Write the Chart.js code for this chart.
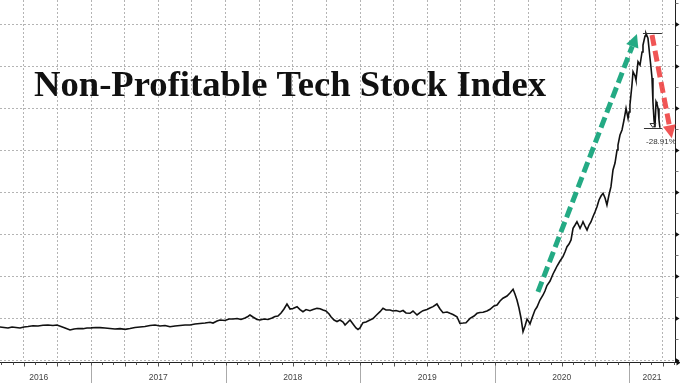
<!DOCTYPE html>
<html>
<head>
<meta charset="utf-8">
<script src="https://cdn.jsdelivr.net/npm/chart.js@4.4.1/dist/chart.umd.min.js"></script>
<style>
html,body{margin:0;padding:0;background:#fff;}
#wrap{width:680px;height:383px;position:relative;}
</style>
</head>
<body>
<div id="wrap"><canvas id="c" width="680" height="383"></canvas></div>
<script>
// ---- data (dates as fractional years, index values) ----
const dates2016 = [2016.323,2016.353,2016.383,2016.413,2016.442,2016.472,2016.502,2016.532,2016.569,2016.606,2016.643,2016.680,2016.717,2016.747,2016.777,2016.807,2016.844,2016.874,2016.903,2016.941,2016.970,2017.000];
const values2016 = [39.3,38.7,38.1,39.3,38.7,38.1,39.3,39.9,40.8,40.5,41.3,41.7,41.1,41.7,39.9,38.1,35.7,36.9,37.5,37.3,38.1,38.3];
const dates2017 = [2017.037,2017.067,2017.104,2017.141,2017.178,2017.216,2017.253,2017.290,2017.327,2017.364,2017.401,2017.439,2017.476,2017.513,2017.550,2017.587,2017.625,2017.662,2017.699,2017.736,2017.773,2017.810,2017.848,2017.885,2017.907,2017.937,2017.959,2017.996];
const values2017 = [38.7,38.5,38.1,37.5,36.9,37.3,36.5,37.5,38.7,39.3,39.9,41.1,41.7,40.5,41.1,39.6,40.5,41.1,41.7,41.7,42.9,43.5,44.0,44.9,44.0,46.4,47.6,47.0];
const dates2018 = [2018.026,2018.056,2018.086,2018.115,2018.145,2018.167,2018.182,2018.204,2018.234,2018.257,2018.286,2018.316,2018.346,2018.368,2018.390,2018.413,2018.435,2018.457,2018.480,2018.502,2018.532,2018.554,2018.576,2018.599,2018.628,2018.651,2018.680,2018.703,2018.725,2018.747,2018.770,2018.784,2018.807,2018.829,2018.851,2018.874,2018.889,2018.911,2018.926,2018.948,2018.970,2018.985,2019.000];
const values2018 = [48.8,48.8,49.4,48.2,50.0,51.8,53.6,51.2,48.2,47.6,48.8,48.2,50.0,51.8,52.4,56.0,60.7,66.7,60.7,61.3,63.5,60.1,57.5,60.1,58.7,60.1,61.5,61.1,59.5,58.3,54.8,51.5,47.6,45.8,47.6,45.2,41.7,45.2,47.6,42.9,38.1,36.3,38.1];
const dates2019 = [2019.022,2019.045,2019.074,2019.097,2019.119,2019.149,2019.171,2019.193,2019.223,2019.245,2019.268,2019.297,2019.320,2019.342,2019.372,2019.394,2019.424,2019.446,2019.468,2019.498,2019.520,2019.543,2019.572,2019.595,2019.617,2019.647,2019.669,2019.691,2019.721,2019.743,2019.766,2019.788,2019.818,2019.848,2019.870,2019.892,2019.915,2019.944,2019.967,2019.996];
const values2019 = [44.4,45.2,47.6,49.4,53.0,57.5,61.5,59.5,59.5,58.3,58.9,57.5,58.9,56.0,55.6,58.3,53.6,56.5,58.7,60.1,61.9,63.5,66.7,60.7,56.3,57.1,55.6,54.2,51.5,43.7,44.0,44.4,49.6,52.4,55.6,56.5,56.8,58.3,60.4,64.3];
const dates2020 = [2020.019,2020.041,2020.063,2020.093,2020.115,2020.138,2020.152,2020.167,2020.182,2020.197,2020.212,2020.227,2020.242,2020.257,2020.264,2020.279,2020.301,2020.316,2020.338,2020.361,2020.375,2020.390,2020.413,2020.435,2020.450,2020.465,2020.487,2020.509,2020.524,2020.539,2020.554,2020.569,2020.584,2020.599,2020.613,2020.628,2020.636,2020.651,2020.658,2020.673,2020.688,2020.703,2020.717,2020.732,2020.747,2020.762,2020.777,2020.792,2020.807,2020.822,2020.836,2020.851,2020.866,2020.881,2020.896,2020.911,2020.918,2020.933,2020.948,2020.963,2020.978,2020.993];
const values2020 = [65.5,70.2,73.5,76.2,79.8,84.2,78.6,71.4,61.9,50.0,33.7,40.5,48.8,45.2,42.9,50.0,59.5,63.1,71.4,77.4,82.1,88.7,94.0,102.4,107.1,111.9,117.9,123.0,128.6,134.9,138.1,142.9,156.8,160.7,164.6,159.5,156.8,161.9,164.6,159.5,154.8,160.7,164.3,170.6,176.2,182.5,190.5,195.2,198.5,192.9,184.5,196.4,206.3,226.2,234.5,250.0,256.0,267.9,273.8,285.7,299.6,287.7];
const dates2021 = [2021.000,2021.007,2021.022,2021.030,2021.045,2021.052,2021.067,2021.082,2021.097,2021.104,2021.119,2021.126,2021.141,2021.156,2021.164,2021.171,2021.178,2021.186,2021.193,2021.201,2021.208,2021.216,2021.223,2021.230];
const values2021 = [295.2,303.6,327.4,343.2,338.1,333.3,355.1,351.2,366.7,375.0,385.7,388.9,383.0,359.5,347.6,335.7,307.5,285.7,277.0,307.5,304.8,299.6,285.7,276.5];

const yearLabels = ['2016','2017','2018','2019','2020','2021'];
const titleText = 'Non-Profitable Tech Stock Index';
const dropLabel = '-28.91%';
// annotation arrows in data coordinates [year, value]
const greenArrow = {from:[2020.323, 81], to:[2021.059, 388]};
const redArrow   = {from:[2021.171, 387], to:[2021.318, 264]};

const dates = [].concat(dates2016,dates2017,dates2018,dates2019,dates2020,dates2021);
const values = [].concat(values2016,values2017,values2018,values2019,values2020,values2021);

const X_MIN = 2016.3234, X_MAX = 2021.342;
const Y_MIN = 0, Y_MAX = 428.6, Y_STEP = 50;

function drawArrow(ctx, x0, y0, x1, y1, color, lw, head, headW){
  const dx = x1-x0, dy = y1-y0, L = Math.hypot(dx,dy);
  const ux = dx/L, uy = dy/L;
  const bx = x1-ux*head, by = y1-uy*head;
  ctx.save();
  ctx.strokeStyle = color; ctx.fillStyle = color; ctx.lineWidth = lw;
  ctx.setLineDash([11,5]);
  ctx.beginPath(); ctx.moveTo(x0,y0); ctx.lineTo(bx,by); ctx.stroke();
  ctx.setLineDash([]);
  ctx.beginPath();
  ctx.moveTo(x1,y1);
  ctx.lineTo(bx - uy*headW/2, by + ux*headW/2);
  ctx.lineTo(bx + uy*headW/2, by - ux*headW/2);
  ctx.closePath(); ctx.fill();
  ctx.restore();
}

const overlay = {
  id:'overlay',
  afterDraw(chart){
    const {ctx, chartArea:a, scales:{x,y}} = chart;
    ctx.save();
    const axisY = Math.round(a.bottom)+2.5;
    const axX = Math.round(a.right)+0.5;
    ctx.strokeStyle = '#222'; ctx.lineWidth = 1;
    // bottom axis line
    ctx.beginPath(); ctx.moveTo(a.left, axisY); ctx.lineTo(axX+2, axisY); ctx.stroke();
    // arrow at right end of x axis
    ctx.fillStyle = '#111';
    ctx.beginPath(); ctx.moveTo(axX+5, axisY); ctx.lineTo(axX+1, axisY-3); ctx.lineTo(axX+1, axisY+3); ctx.closePath(); ctx.fill();
    // right axis line
    ctx.beginPath(); ctx.moveTo(axX, a.top); ctx.lineTo(axX, axisY); ctx.stroke();
    // right axis ticks
    for (let v = Y_MIN; v <= Y_MAX; v += Y_STEP/2){
      const py = Math.round(y.getPixelForValue(v))+0.5;
      if ((v/Y_STEP) % 1 === 0){
        ctx.beginPath(); ctx.moveTo(axX, py-2.5); ctx.lineTo(axX+4, py); ctx.lineTo(axX, py+2.5); ctx.closePath(); ctx.fill();
      } else {
        ctx.strokeStyle='#777';
        ctx.beginPath(); ctx.moveTo(axX, py); ctx.lineTo(axX+3, py); ctx.stroke();
        ctx.strokeStyle='#222';
      }
    }
    // monthly ticks on bottom axis
    ctx.strokeStyle = '#555';
    for (let m = Math.ceil(X_MIN*12); m/12 <= X_MAX; m++){
      const px = Math.round(x.getPixelForValue(m/12))+0.5;
      const len = (m % 3 === 0) ? 4 : 2.5;
      ctx.beginPath(); ctx.moveTo(px, axisY); ctx.lineTo(px, axisY+len); ctx.stroke();
    }
    // year separators and labels
    ctx.strokeStyle = '#aaa';
    ctx.font = '8.5px "Liberation Sans", Arial, sans-serif';
    ctx.fillStyle = '#444'; ctx.textAlign = 'center'; ctx.textBaseline = 'middle';
    yearLabels.forEach(lbl => {
      const yr = parseInt(lbl,10);
      if (yr > X_MIN){
        const px = Math.round(x.getPixelForValue(yr))+0.5;
        ctx.beginPath(); ctx.moveTo(px, axisY+3); ctx.lineTo(px, chart.height); ctx.stroke();
      }
      const l = x.getPixelForValue(Math.max(yr, X_MIN-0.1));
      const r = x.getPixelForValue(Math.min(yr+1, X_MAX));
      ctx.fillText(lbl, (l+r)/2, axisY+15.5);
    });
    // title
    ctx.save();
    ctx.font = 'bold 36px "Liberation Serif", "Times New Roman", serif';
    ctx.fillStyle = '#111'; ctx.textAlign = 'left'; ctx.textBaseline = 'alphabetic';
    const tw = ctx.measureText(titleText).width;
    ctx.translate(34, 96);
    ctx.scale(512/tw, 1);
    ctx.fillText(titleText, 0, 0);
    ctx.restore();
    // drawdown annotation
    let pk = 0; values.forEach((v,i)=>{ if (v > values[pk]) pk = i; });
    const last = values.length-1;
    const pkX = x.getPixelForValue(dates[pk]), pkY = Math.round(y.getPixelForValue(values[pk]))+0.5;
    const lsX = x.getPixelForValue(dates[last]), lsY = Math.round(y.getPixelForValue(values[last]))+0.5;
    ctx.strokeStyle = '#333'; ctx.lineWidth = 1;
    ctx.beginPath(); ctx.moveTo(pkX-3, pkY); ctx.lineTo(lsX+2, pkY); ctx.stroke();
    ctx.beginPath(); ctx.moveTo(pkX-2, lsY); ctx.lineTo(lsX+2, lsY); ctx.stroke();
    const tx = (pkX+lsX)/2;
    ctx.beginPath(); ctx.moveTo(tx-3, lsY-5); ctx.lineTo(tx+3, lsY-5); ctx.lineTo(tx, lsY-1); ctx.closePath(); ctx.stroke();
    ctx.font = '8px "Liberation Sans", Arial, sans-serif';
    ctx.fillStyle = '#333'; ctx.textAlign = 'center'; ctx.textBaseline = 'top';
    ctx.fillText(dropLabel, lsX+1, lsY+9);
    // arrows
    drawArrow(ctx, x.getPixelForValue(greenArrow.from[0]), y.getPixelForValue(greenArrow.from[1]),
              x.getPixelForValue(greenArrow.to[0]), y.getPixelForValue(greenArrow.to[1]),
              'rgba(24,165,125,0.95)', 5, 13, 13);
    drawArrow(ctx, x.getPixelForValue(redArrow.from[0]), y.getPixelForValue(redArrow.from[1]),
              x.getPixelForValue(redArrow.to[0]), y.getPixelForValue(redArrow.to[1]),
              'rgba(238,62,62,0.88)', 5, 13, 13);
    ctx.restore();
  }
};

new Chart(document.getElementById('c'), {
  type: 'line',
  data: {
    datasets: [{
      data: dates.map((d,i)=>({x:d, y:values[i]})),
      borderColor: '#111', borderWidth: 1.6, pointRadius: 0, tension: 0, fill: false
    }]
  },
  options: {
    responsive: false, animation: false, devicePixelRatio: 1,
    layout: {padding: {left: 0, top: 0, right: 5, bottom: 23}},
    plugins: {legend: {display: false}, tooltip: {enabled: false}},
    scales: {
      x: {
        type: 'linear', min: X_MIN, max: X_MAX,
        afterBuildTicks: s => {
          const t = [];
          for (let q = Math.ceil(X_MIN*4); q/4 < X_MAX; q++) t.push({value: q/4});
          s.ticks = t;
        },
        ticks: {display: false},
        grid: {color: '#b4b4b4', lineWidth: 1, drawTicks: false},
        border: {display: false, dash: [2,2]}
      },
      y: {
        min: Y_MIN, max: Y_MAX,
        afterBuildTicks: s => {
          const t = [];
          for (let v = Y_MIN; v < Y_MAX; v += Y_STEP) t.push({value: v});
          s.ticks = t;
        },
        ticks: {display: false},
        grid: {color: '#b4b4b4', lineWidth: 1, drawTicks: false},
        border: {display: false, dash: [2,2]}
      }
    }
  },
  plugins: [overlay]
});
</script>
</body>
</html>
